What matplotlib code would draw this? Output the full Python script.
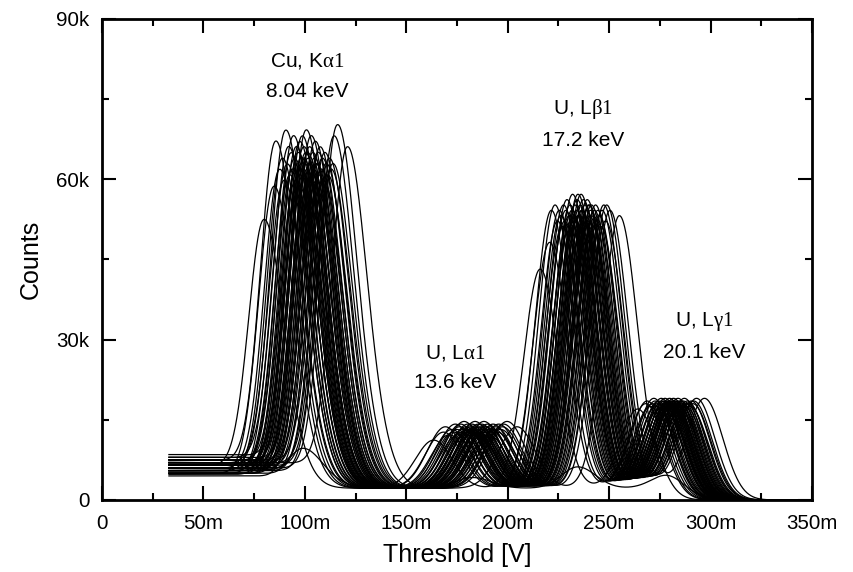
import numpy as np
import matplotlib
matplotlib.use("Agg")
import matplotlib.pyplot as plt
from matplotlib.ticker import FixedLocator, MultipleLocator

plt.rcParams['font.family'] = ['Liberation Sans', 'DejaVu Sans']
plt.rcParams['mathtext.fontset'] = 'custom'
plt.rcParams['mathtext.rm'] = 'Liberation Serif'
plt.rcParams['mathtext.it'] = 'Liberation Serif:italic'

# ---------------- data ----------------
# per-pixel energy-scale shift [mV] of the Cu K-alpha peak relative to 100 mV
shift = [-20.5, -15.6, -14.7, -12.8, -11.5, -10.6, -9.8, -9.1, -8.4, -7.8,
         -7.2, -6.6, -6.0, -5.5, -5.0, -4.6, -4.1, -3.7, -3.3, -2.9,
         -2.5, -2.1, -1.7, -1.3, -0.9, -0.5, -0.1, 0.3, 0.7, 1.1,
         1.5, 1.9, 2.3, 2.7, 3.1, 3.5, 3.9, 4.3, 4.7, 5.1,
         5.6, 6.1, 6.6, 7.1, 7.6, 8.2, 8.8, 9.4, 10.1, 10.8,
         11.6, 12.5, 13.4, 14.0, 15.7, 20.6, -3.0, 1.0, 5.0, -1.0, -1.0]
# peak amplitudes [k counts] above the continuum
cu_amp = [48, 54, 62, 57, 59, 55, 64, 58, 61, 56,
          60, 57, 63, 59, 55, 61, 58, 60, 54, 62,
          57, 59, 63, 56, 61, 58, 60, 64, 57, 59,
          55, 61, 58, 63, 56, 60, 57, 59, 62, 55,
          58, 60, 56, 61, 57, 59, 55, 60, 58, 56,
          59, 57, 58, 63, 65, 61, 57, 60, 58, 59, 7]
la_amp = [9.0, 10.5, 11.5, 10.0, 11.0, 10.5, 12.0, 11.0, 10.0, 11.5,
          12.0, 10.5, 11.0, 12.5, 10.0, 11.5, 11.0, 12.0, 10.5, 11.0,
          11.5, 10.0, 12.0, 11.0, 10.5, 11.5, 12.5, 11.0, 10.0, 11.5,
          12.0, 10.5, 11.0, 11.5, 12.0, 10.0, 11.0, 12.5, 10.5, 11.5,
          11.0, 12.0, 10.0, 11.5, 11.0, 10.5, 12.0, 11.0, 11.5, 10.5,
          12.0, 11.0, 11.5, 12.0, 12.5, 11.5, 11.0, 10.5, 11.5, 11.0, 2.0]
lb_amp = [41, 46, 52, 53, 50, 52, 51, 49, 53, 50,
          52, 54, 48, 51, 53, 50, 52, 55, 49, 51,
          53, 50, 52, 54, 55, 51, 49, 53, 55, 52,
          50, 54, 51, 53, 49, 52, 54, 50, 53, 51,
          52, 53, 49, 51, 52, 53, 50, 52, 51, 49,
          52, 53, 50, 53, 52, 51, 50, 52, 53, 51, 4]
lg_amp = [15.5, 16.5, 17.0, 16.0, 16.5, 17.5, 17.0, 16.0, 16.5, 17.0,
          15.5, 16.5, 17.5, 17.0, 16.0, 16.5, 17.0, 17.5, 16.0, 16.5,
          17.0, 15.5, 16.5, 17.0, 17.5, 16.0, 16.5, 17.0, 16.0, 16.5,
          17.5, 17.0, 16.0, 16.5, 17.0, 15.5, 16.5, 17.5, 17.0, 16.0,
          16.5, 17.0, 16.0, 16.5, 17.0, 17.5, 16.0, 16.5, 17.0, 16.5,
          16.0, 17.0, 16.5, 17.0, 17.5, 17.5, 16.5, 17.0, 16.0, 16.5, 3.0]
base_left = [6.5, 5.0, 7.5, 6.0, 5.5, 7.0, 6.5, 5.0, 8.0, 6.0,
             5.5, 7.0, 6.5, 4.8, 6.0, 7.5, 5.5, 6.5, 7.0, 5.0,
             6.0, 8.5, 5.5, 6.5, 7.0, 6.0, 5.0, 7.5, 6.5, 5.5,
             6.0, 7.0, 5.0, 6.5, 8.0, 6.0, 5.5, 7.0, 6.5, 4.5,
             6.0, 7.5, 5.5, 6.5, 7.0, 6.0, 5.0, 6.5, 7.5, 5.5,
             6.0, 7.0, 6.5, 5.5, 6.0, 7.0, 6.5, 5.0, 6.0, 7.0, 6.0]

x_ticks = [0, 50, 100, 150, 200, 250, 300, 350]
x_tick_labels = ["0", "50m", "100m", "150m", "200m", "250m", "300m", "350m"]
y_ticks = [0, 30000, 60000, 90000]
y_tick_labels = ["0", "30k", "60k", "90k"]

labels = [r"Cu, K$\mathrm{\alpha1}$" + "\n8.04 keV",
          r"U, L$\mathrm{\alpha1}$" + "\n13.6 keV",
          r"U, L$\mathrm{\beta1}$" + "\n17.2 keV",
          r"U, L$\mathrm{\gamma1}$" + "\n20.1 keV"]
label_x = [101.3, 174, 237, 296.7]
label_y = [79300, 24800, 70400, 30700]

# ---------------- figure ----------------
fig = plt.figure(figsize=(8.54, 5.72), dpi=100)
ax = fig.add_axes([0.1194, 0.1259, 0.9508 - 0.1194, 0.9668 - 0.1259])

x = np.linspace(33, 350, 1600)


def agauss(x, c, sl, sr):
    s = np.where(x < c, sl, sr)
    return np.exp(-0.5 * ((x - c) / s) ** 2)


def logistic(z):
    return 1.0 / (1.0 + np.exp(-z))


for i in range(len(shift)):
    d = shift[i]
    cu_c = 100 + d
    la_c = 184 + d
    lb_c = 235.5 + 0.95 * d
    lg_c = 281 + 0.8 * d
    cont = (2.2 + (base_left[i] - 2.2) * logistic((cu_c - 12 - x) / 4.0)) \
        * logistic((lg_c + 3 - x) / 4.0)
    y = (cont
         + cu_amp[i] * agauss(x, cu_c, 7.5, 9.0)
         + 0.12 * cu_amp[i] * agauss(x, cu_c + 13, 9.0, 9.0)
         + la_amp[i] * agauss(x, la_c, 9.0, 9.0)
         + lb_amp[i] * agauss(x, lb_c, 8.0, 8.8)
         + lg_amp[i] * agauss(x, lg_c, 8.5, 9.0)) * 1000.0
    ax.plot(x, y, color='black', lw=0.9)

ax.set_xlim(0, 350)
ax.set_ylim(0, 90000)
ax.xaxis.set_major_locator(FixedLocator(x_ticks))
ax.set_xticklabels(x_tick_labels)
ax.xaxis.set_minor_locator(MultipleLocator(25))
ax.yaxis.set_major_locator(FixedLocator(y_ticks))
ax.set_yticklabels(y_tick_labels)
ax.yaxis.set_minor_locator(MultipleLocator(15000))

ax.tick_params(which='both', direction='in', top=True, right=True,
               width=1.5, labelsize=14.8, colors='black')
ax.tick_params(axis='x', which='major', length=10, pad=10)
ax.tick_params(axis='y', which='major', length=10, pad=9)
ax.tick_params(which='minor', length=5)
for sp in ax.spines.values():
    sp.set_linewidth(2.0)

ax.set_xlabel("Threshold [V]", fontsize=18, labelpad=7)
ax.set_ylabel("Counts", fontsize=18, labelpad=10)

for t, xx, yy in zip(labels, label_x, label_y):
    ax.text(xx, yy, t, ha='center', va='center', fontsize=15,
            linespacing=1.7)

fig.savefig("out.png", dpi=100)
